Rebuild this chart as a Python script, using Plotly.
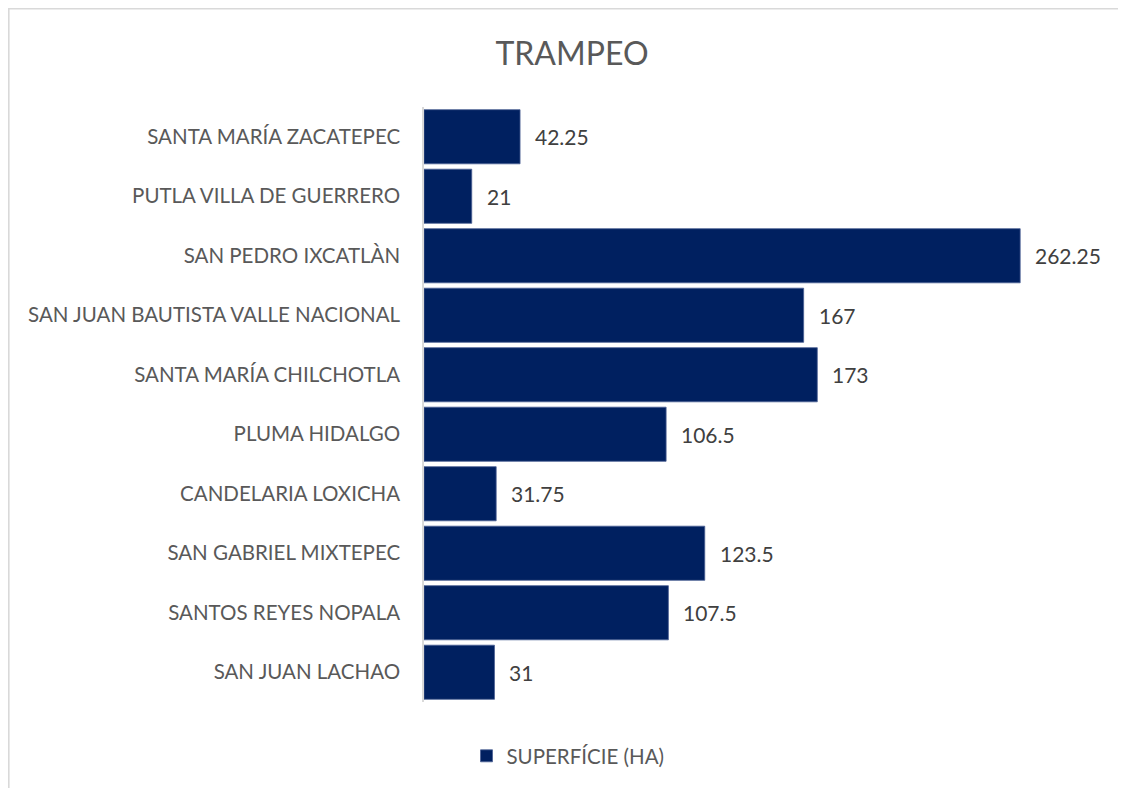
import plotly.graph_objects as go

categories = [
    "SANTA MARÍA ZACATEPEC",
    "PUTLA VILLA DE GUERRERO",
    "SAN PEDRO IXCATLÀN",
    "SAN JUAN BAUTISTA VALLE NACIONAL",
    "SANTA MARÍA CHILCHOTLA",
    "PLUMA HIDALGO",
    "CANDELARIA LOXICHA",
    "SAN GABRIEL MIXTEPEC",
    "SANTOS REYES NOPALA",
    "SAN JUAN LACHAO",
]
superficie = [42.25, 21, 262.25, 167, 173, 106.5, 31.75, 123.5, 107.5, 31]
value_labels = ["42.25", "21", "262.25", "167", "173", "106.5", "31.75", "123.5", "107.5", "31"]

title_text = "TRAMPEO"
series_name = "SUPERFÍCIE (HA)"

# page has an 8px body margin; figure is offset by it
OFF = 8
W, H = 1126 - OFF, 788 - OFF
L, R, T, B = 424 - OFF, 20, 107 - OFF, 86
FONT = "Lato"
BAR = "#002060"

fig = go.Figure()
fig.add_trace(go.Bar(
    y=categories, x=superficie, orientation="h", name=series_name,
    marker=dict(color=BAR, line=dict(color="#4a5f93", width=0.8)),
    showlegend=True,
))

for cat, val, lab in zip(categories, superficie, value_labels):
    fig.add_annotation(x=val, y=cat, text=lab, showarrow=False, xanchor="left",
                       xshift=13, font=dict(family=FONT, size=21, color="#404040"))

pw, ph = W - L - R, H - T - B
def px(x):
    return (x - L) / pw
def py(y):
    return (H - B - y) / ph

shapes = [
    dict(type="line", xref="paper", yref="paper", x0=px(0), x1=px(W + 10), y0=py(0.8), y1=py(0.8),
         line=dict(color="#d9d9d9", width=1.6)),
    dict(type="line", xref="paper", yref="paper", x0=px(0.8), x1=px(0.8), y0=py(0), y1=py(H + 10),
         line=dict(color="#d9d9d9", width=1.6)),
]

fig.update_layout(
    width=W, height=H,
    margin=dict(l=L, r=R, t=T, b=B, autoexpand=False),
    paper_bgcolor="white", plot_bgcolor="white",
    bargap=0.09,
    title=dict(text=title_text, x=(572 - OFF) / W, xref="container", xanchor="center",
               y=1 - (54 - OFF) / H, yref="container", yanchor="middle",
               font=dict(family=FONT, size=32, color="#595959")),
    xaxis=dict(range=[0, 300], visible=False, showgrid=False, zeroline=False),
    yaxis=dict(autorange="reversed", showline=True, linecolor="#d9d9d9", linewidth=1.5,
               ticks="", ticklabelstandoff=18, showgrid=False,
               tickfont=dict(family=FONT, size=20.5, color="#595959")),
    legend=dict(orientation="h", xref="container", yref="container",
                x=(568 - OFF) / W, xanchor="center", y=1 - (756 - OFF) / H, yanchor="middle",
                font=dict(family=FONT, size=20.5, color="#595959"),
                itemwidth=30),
    shapes=shapes,
)

fig.write_html("out.html")
